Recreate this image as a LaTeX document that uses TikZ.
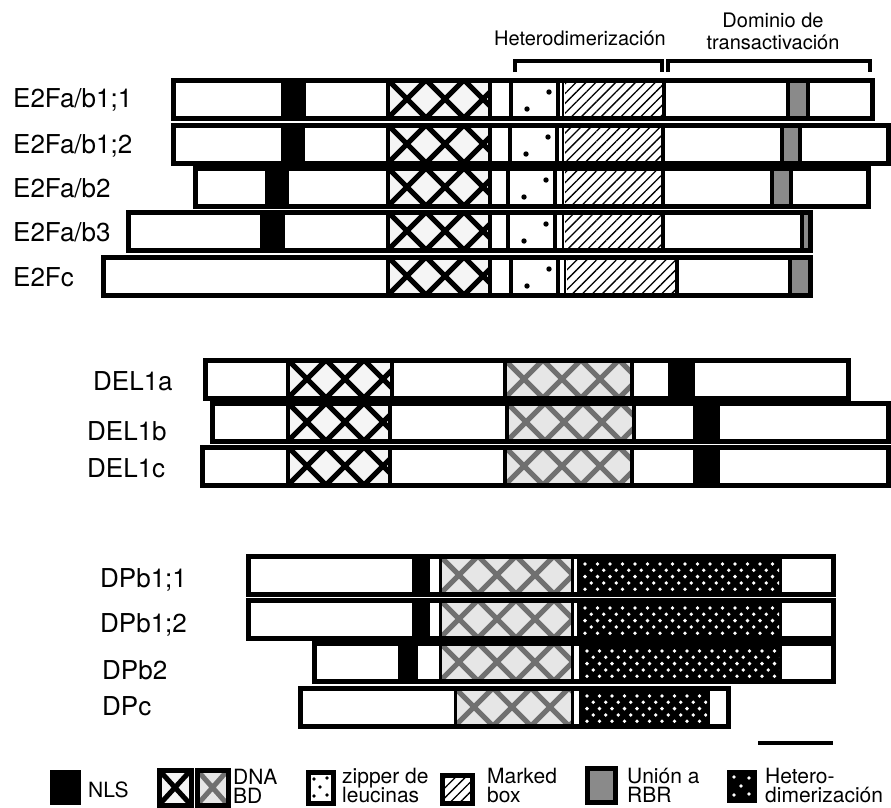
\documentclass[tikz,border=0pt]{standalone}
\usepackage{fontspec}
\setmainfont{TeX Gyre Heros}
\usetikzlibrary{patterns.meta}
\definecolor{grigiorbr}{HTML}{8A8A8A}
\definecolor{grigioretino}{HTML}{707070}
\definecolor{grigiochiaro}{HTML}{E6E6E6}

\begin{document}
\begin{tikzpicture}[x=1pt,y=-1pt,
			contorno/.style={line width=5pt, line join=miter, black},
			divisore/.style={line width=4pt, black},
			retino/.style={line width=5pt},
			nls/.style={fill=black},
			rbr/.style={fill=grigiorbr},
			marcato/.style={pattern={Lines[angle=45,distance=7pt,line width=1.3pt]}},
			etichetta/.style={font=\fontsize{26}{30}\selectfont, anchor=base west, inner sep=0pt},
			titolo/.style={font=\fontsize{20}{22}\selectfont, anchor=base, inner sep=0pt},
			legenda/.style={font=\fontsize{21}{22}\selectfont, anchor=base west, inner sep=0pt},
			]
			\useasboundingbox(0,0)rectangle(891,807);
			\def\hb{38}
			\def\reticolo#1#2#3#4#5{%
				\fill[#5](#1,#3)rectangle(#2,#3+\hb);
				\begin{scope}
					\clip(#1,#3)rectangle(#2,#3+\hb);
					\foreach \k in {0,...,4}
					\draw[retino,#4](#1+\k*\hb,#3)--++(\hb,\hb)(#1+\k*\hb,#3+\hb)--++(\hb,-\hb);
				\end{scope}}
			\def\puntinato#1#2#3{%
				\fill[black](#1,#3)rectangle(#2,#3+\hb);
				\begin{scope}
					\clip(#1+3,#3+3)rectangle(#2-3,#3+\hb-3);
					\foreach \ri in {0,...,4}
					\foreach \ci in {0,...,17}
					\fill[white]({#1+7+\ci*12.5+mod(\ri,2)*6.25},{#3+8+\ri*6.3})circle(1.9);
				\end{scope}}
			
			%% ── E2F ────────────────────────────────────────────────
			\foreach \ty/\xl/\xr/\na/\nb/\zi/\zf/\ma/\mf/\ga/\gf in
			{80/173/872/281/306/511/558/565/664/788/808,
				125/173/888/281/305/510/557/565/663/782/800,
				168/195/868/265/289/508/555/565/663/772/791,
				212/128/810/260/285/508/555/565/663/802/810,
				257/103/810/0/0/511/558/567/677/790/810}{
				\fill[white](\xl,\ty)rectangle(\xr,\ty+\hb);
				\ifnum\na>0 \fill[nls](\na,\ty)rectangle(\nb,\ty+\hb);\fi
				\reticolo{388}{490}{\ty}{black}{gray!8}
				\fill[marcato](\ma,\ty)rectangle(\mf,\ty+\hb);
				\fill[rbr](\ga,\ty)rectangle(\gf,\ty+\hb);
				\fill(\zi+16,\ty+29)circle(2.7)(\zi+38,\ty+12)circle(2.7);
				\foreach \xs in {388,490,\zi,\zf,\mf,\ga,\gf}
				\draw[divisore](\xs,\ty)--(\xs,\ty+\hb);
				\draw[divisore,line width=2.5pt](\ma-2,\ty)--(\ma-2,\ty+\hb);
				\draw[contorno](\xl,\ty)rectangle(\xr,\ty+\hb);
			}
			\draw[divisore](515,72)--(515,61)--(662,61)--(662,72);
			\draw[divisore](668,72)--(668,61)--(870,61)--(870,72);
			\node[titolo](het)at(580,45){Heterodimerización};
			\node[titolo](dom)at(773,27){Dominio de};
			\node[titolo](tra)at(773,49){transactivación};
			\node[etichetta](e2f11)at(13,107){E2Fa/b1;1};
			\node[etichetta](e2f12)at(13,153){E2Fa/b1;2};
			\node[etichetta](e2f2)at(13,197){E2Fa/b2};
			\node[etichetta](e2f3)at(13,241){E2Fa/b3};
			\node[etichetta](e2fc)at(13,286){E2Fc};
			
			%% ── DEL ────────────────────────────────────────────────
			\foreach \ty/\xl/\xr/\ca/\cb/\ga/\gb/\na/\nb in
			{360/205/848/288/392/505/632/668/695,
				403/212/888/288/390/507/634/693/720,
				447/202/888/288/390/505/632/693/720}{
				\fill[white](\xl,\ty)rectangle(\xr,\ty+\hb);
				\reticolo{\ca}{\cb}{\ty}{black}{gray!8}
				\reticolo{\ga}{\gb}{\ty}{grigioretino}{grigiochiaro}
				\fill[nls](\na,\ty)rectangle(\nb,\ty+\hb);
				\foreach \xs in {\ca,\cb,\ga,\gb}
				\draw[divisore](\xs,\ty)--(\xs,\ty+\hb);
				\draw[contorno](\xl,\ty)rectangle(\xr,\ty+\hb);
			}
			\node[etichetta](del1a)at(93,390){DEL1a};
			\node[etichetta](del1b)at(87,440){DEL1b};
			\node[etichetta](del1c)at(87,477){DEL1c};
			
			%% ── DP ─────────────────────────────────────────────────
			\foreach \ty/\xl/\xr/\na/\nb/\ca/\sa/\pb in
			{556/248/833/412/430/440/578/782,
				600/248/833/412/430/440/578/782,
				643/314/833/398/418/440/580/782,
				688/300/728/0/0/455/580/710}{
				\fill[white](\xl,\ty)rectangle(\xr,\ty+\hb);
				\ifnum\na>0 \fill[nls](\na,\ty)rectangle(\nb,\ty+\hb);\fi
				\reticolo{\ca}{572}{\ty}{grigioretino}{grigiochiaro}
				\puntinato{\sa}{\pb}{\ty}
				\foreach \xs in {\ca,572,\sa}
				\draw[divisore,line width=3pt](\xs,\ty)--(\xs,\ty+\hb);
				\draw[contorno](\xl,\ty)rectangle(\xr,\ty+\hb);
			}
			\node[etichetta](dpb11)at(100,587){DPb1;1};
			\node[etichetta](dpb12)at(100,632){DPb1;2};
			\node[etichetta](dpb2)at(102,679){DPb2};
			\node[etichetta](dpc)at(102,715){DPc};
			
			%% ── scala e legenda ────────────────────────────────────
			\draw[line width=3.5pt](758,743)--(833,743);
			\fill[nls](50,770)rectangle(81,805);
			\node[legenda](lnls)at(88,797){NLS};
			\fill[gray!8](159,770)rectangle(191,805);
			\draw[retino,black](159,770)--(191,805)(159,805)--(191,770);
			\draw[contorno](159,770)rectangle(191,805);
			\fill[grigiochiaro](197,770)rectangle(228,805);
			\draw[retino,grigioretino](197,770)--(228,805)(197,805)--(228,770);
			\draw[contorno](197,770)rectangle(228,805);
			\node[legenda](ldna)at(233,784){DNA};
			\node[legenda](lbd)at(233,803){BD};
			\draw[contorno,fill=white](308,772)rectangle(333,803);
			\foreach \px/\py in {314/779,327/778,320/787,314/796,327/795}
			\fill(\px,\py)circle(1.8);
			\node[legenda](lzip)at(342,783){zipper de};
			\node[legenda](lleu)at(342,802){leucinas};
			\fill[white](442,775)rectangle(472,803);
			\fill[marcato](442,775)rectangle(472,803);
			\draw[contorno](442,775)rectangle(472,803);
			\node[legenda](lmar)at(487,783){Marked};
			\node[legenda](lbox)at(487,802){box};
			\draw[contorno,fill=grigiorbr](587,768)rectangle(615,802);
			\node[legenda](luni)at(627,783){Unión a};
			\node[legenda](lrbr)at(627,802){RBR};
			\fill[black](727,770)rectangle(757,803);
			\foreach \px/\py in {734/777,749/778,741/786,734/795,749/794}
			\fill[white](\px,\py)circle(1.8);
			\node[legenda](lhet)at(765,783){Hetero-};
			\node[legenda](ldim)at(765,802){dimerización};
			
\end{tikzpicture}
\end{document}
